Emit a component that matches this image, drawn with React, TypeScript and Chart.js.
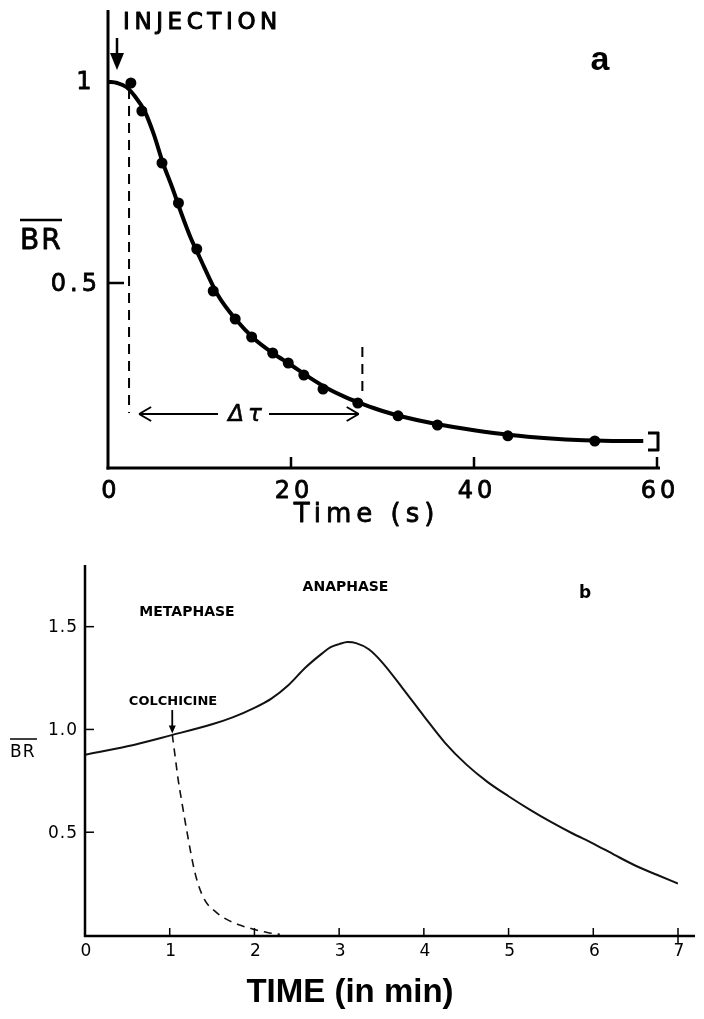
import React, { useEffect, useRef } from "react";
import { Chart, registerables } from "chart.js";

Chart.register(...registerables);

// ---------------- Panel a : data ----------------
const aCurveTime = [0, 1, 2, 3, 4, 5, 6, 7, 8, 9, 10, 12, 14, 16, 18, 20, 22, 24, 26, 28, 30, 32, 36, 40, 44, 48, 52, 56, 58.5];
const aCurveBR = [1.003, 1.0, 0.99, 0.965, 0.93, 0.872, 0.8, 0.74, 0.675, 0.615, 0.565, 0.47, 0.408, 0.36, 0.325, 0.295, 0.264, 0.236, 0.214, 0.196, 0.18, 0.167, 0.147, 0.132, 0.12, 0.112, 0.107, 0.105, 0.105];
const aPointTime = [2.5, 3.7, 5.9, 7.7, 9.7, 11.5, 13.9, 15.7, 18.0, 19.7, 21.4, 23.5, 27.3, 31.7, 36.0, 43.7, 53.2];
const aPointBR = [1.0, 0.93, 0.8, 0.7, 0.585, 0.48, 0.41, 0.365, 0.325, 0.3, 0.27, 0.235, 0.2, 0.168, 0.145, 0.118, 0.105];
const aDashStartTime = [2.3, 2.3];
const aDashStartBR = [0.985, 0.175];
const aDashEndTime = [27.8, 27.8];
const aDashEndBR = [0.34, 0.215];
const aXTicks = [0, 20, 40, 60];
const aXTickLabels = ["0", "20", "40", "60"];
const aXTickMarks = [20, 40, 60];
const aYTicks = [0.5, 1];
const aYTickLabels = ["0.5", "1"];
const aYTickMarks = [0.5];
const aDeltaTauTime = [3.4, 27.4];
const aDeltaTauBR = 0.1725;
const aXMin = 0, aXMax = 60, aYMin = 0.0375, aYMax = 1.1825;

// ---------------- Panel b : data ----------------
const bCurveTime = [0, 0.5, 1.0, 1.5, 1.75, 2.0, 2.2, 2.4, 2.6, 2.8, 2.9, 3.0, 3.1, 3.2, 3.35, 3.5, 3.75, 4.0, 4.25, 4.5, 4.75, 5.0, 5.25, 5.5, 5.75, 6.0, 6.25, 6.5, 6.75, 7.0];
const bCurveBR = [0.877, 0.918, 0.97, 1.025, 1.06, 1.105, 1.15, 1.215, 1.3, 1.37, 1.4, 1.415, 1.425, 1.42, 1.39, 1.33, 1.2, 1.065, 0.935, 0.83, 0.745, 0.675, 0.61, 0.55, 0.495, 0.445, 0.39, 0.337, 0.293, 0.25];
const bDashTime = [1.03, 1.07, 1.1, 1.15, 1.2, 1.3, 1.4, 1.55, 1.7, 1.85, 2.0, 2.15, 2.3];
const bDashBR = [0.975, 0.85, 0.755, 0.63, 0.51, 0.3, 0.18, 0.11, 0.07, 0.045, 0.027, 0.012, 0.003];
const bXTicks = [0, 1, 2, 3, 4, 5, 6, 7];
const bXTickLabels = ["0", "1", "2", "3", "4", "5", "6", "7"];
const bYTicks = [0.5, 1.0, 1.5];
const bYTickLabels = ["0.5", "1.0", "1.5"];
const bColchicineTime = 1.03;
const bColchicineBR = 0.975;
const bXMin = 0, bXMax = 7, bYMin = 0, bYMax = 1.8;

const SANS = '"DejaVu Sans", sans-serif';
const ARIAL = '"Liberation Sans", Arial, sans-serif';

function txt(ctx: CanvasRenderingContext2D, s: string, x: number, y: number, font: string, align: CanvasTextAlign = "center", spacing = 0, baseline: CanvasTextBaseline = "middle", thicken = 0) {
  ctx.save();
  ctx.font = font;
  (ctx as any).letterSpacing = spacing + "px";
  ctx.textAlign = align;
  ctx.textBaseline = baseline;
  ctx.fillStyle = "#000";
  const dx = align === "center" ? spacing / 2 : align === "right" ? spacing : 0;
  ctx.fillText(s, x + dx, y);
  if (thicken > 0) {
    ctx.strokeStyle = "#000";
    ctx.lineWidth = thicken;
    ctx.lineJoin = "round";
    ctx.strokeText(s, x + dx, y);
  }
  ctx.restore();
}

function seg(ctx: CanvasRenderingContext2D, x1: number, y1: number, x2: number, y2: number, w: number) {
  ctx.save();
  ctx.strokeStyle = "#000";
  ctx.lineWidth = w;
  ctx.beginPath();
  ctx.moveTo(x1, y1);
  ctx.lineTo(x2, y2);
  ctx.stroke();
  ctx.restore();
}

function tri(ctx: CanvasRenderingContext2D, pts: number[][]) {
  ctx.save();
  ctx.fillStyle = "#000";
  ctx.beginPath();
  ctx.moveTo(pts[0][0], pts[0][1]);
  for (let i = 1; i < pts.length; i++) ctx.lineTo(pts[i][0], pts[i][1]);
  ctx.closePath();
  ctx.fill();
  ctx.restore();
}

const toXY = (xs: number[], ys: number[]) => xs.map((x, i) => ({ x, y: ys[i] }));

const topDecor = {
  id: "topDecor",
  afterDraw(chart: any) {
    const ctx: CanvasRenderingContext2D = chart.ctx;
    const X = (v: number) => chart.scales.x.getPixelForValue(v);
    const Y = (v: number) => chart.scales.y.getPixelForValue(v);
    const x0 = X(aXMin), yb = Y(aYMin), yt = Y(aYMax);
    // axes
    seg(ctx, x0, yt, x0, yb + 1.5, 3);
    seg(ctx, x0 - 1.5, yb, X(aXMax) + 3, yb, 3);
    // tick marks (inside)
    aYTickMarks.forEach((v) => seg(ctx, x0, Y(v), x0 + 16, Y(v), 2.5));
    aXTickMarks.forEach((v) => seg(ctx, X(v), yb, X(v), yb - 11, 2.5));
    // tick labels
    aXTicks.forEach((v, i) => txt(ctx, aXTickLabels[i], X(v) + 1, yb + 24, "24px " + SANS, "center", 4, "middle", 0.8));
    aYTicks.forEach((v, i) => {
      if (aYTickLabels[i] === "1") txt(ctx, aYTickLabels[i], 84, Y(v), "24px " + SANS, "center", 0, "middle", 0.8);
      else txt(ctx, aYTickLabels[i], x0 - 11, Y(v) + 2, "24px " + SANS, "right", 4, "middle", 0.8);
    });
    // axis titles
    txt(ctx, "Time (s)", 364, 515, "26px " + SANS, "center", 5, "middle", 0.8);
    txt(ctx, "BR", 20, 249, "28px " + SANS, "left", 2, "alphabetic", 0.8);
    seg(ctx, 20, 220, 62, 220, 2.5);
    // INJECTION label and arrow
    txt(ctx, "INJECTION", 123, 23, "23px " + SANS, "left", 4.6, "middle", 1);
    seg(ctx, 117, 38, 117, 56, 2.5);
    tri(ctx, [[110, 53], [124, 53], [117, 70]]);
    // panel letter
    txt(ctx, "a", 600, 70, "bold 34px " + ARIAL, "center", 0, "alphabetic");
    // delta tau arrow
    const ay = Y(aDeltaTauBR);
    const xl = X(aDeltaTauTime[0]), xr = X(aDeltaTauTime[1]);
    seg(ctx, xl, ay, 218, ay, 2);
    seg(ctx, 269, ay, xr, ay, 2);
    seg(ctx, xl, ay, xl + 12, ay - 7, 2);
    seg(ctx, xl, ay, xl + 12, ay + 7, 2);
    seg(ctx, xr, ay, xr - 12, ay - 7, 2);
    seg(ctx, xr, ay, xr - 12, ay + 7, 2);
    txt(ctx, "Δτ", 245, ay + 1, "italic 23px " + SANS, "center", 4, "middle", 0.6);
    // end bracket
    const bx = X(aXMax);
    seg(ctx, bx + 1, 432, bx + 1, 451, 3);
    seg(ctx, bx - 9, 433, bx + 2, 433, 3);
    seg(ctx, bx - 9, 450, bx + 2, 450, 3);
  },
};

const bottomDecor = {
  id: "bottomDecor",
  afterDraw(chart: any) {
    const ctx: CanvasRenderingContext2D = chart.ctx;
    const X = (v: number) => chart.scales.x.getPixelForValue(v);
    const Y = (v: number) => chart.scales.y.getPixelForValue(v);
    const x0 = X(bXMin), yb = Y(bYMin) + 1, yt = Y(bYMax);
    seg(ctx, x0, yt, x0, yb + 1, 2.5);
    seg(ctx, x0 - 1, yb, 695, yb, 2.5);
    bYTicks.forEach((v, i) => {
      seg(ctx, x0, Y(v), x0 + 9, Y(v), 1.5);
      txt(ctx, bYTickLabels[i], x0 - 8, Y(v) + 1, "17px " + SANS, "right", 1);
    });
    bXTicks.forEach((v, i) => {
      if (v > 0) seg(ctx, X(v), yb, X(v), yb - 8, 1.5);
      txt(ctx, bXTickLabels[i], X(v) + 1, yb + 16, "17px " + SANS, "center", 1);
    });
    seg(ctx, X(bXMax), yb, X(bXMax), yb + 7, 1.5);
    // labels
    txt(ctx, "METAPHASE", 187, 72.5, "bold 14px " + SANS, "center", 0);
    txt(ctx, "ANAPHASE", 345.5, 47.5, "bold 14px " + SANS, "center", 0);
    txt(ctx, "COLCHICINE", 173, 162, "bold 13px " + SANS, "center", 0);
    txt(ctx, "b", 585, 58, "bold 17px " + SANS, "center", 0, "alphabetic");
    txt(ctx, "BR", 10, 217, "17px " + SANS, "left", 1, "alphabetic");
    seg(ctx, 10, 199, 37, 199, 1.5);
    txt(ctx, "TIME (in min)", 350, 453, "bold 33px " + ARIAL, "center", 0);
    // colchicine arrow
    const cx = X(bColchicineTime), cy = Y(bColchicineBR);
    seg(ctx, cx, 170, cx, cy - 6, 1.8);
    tri(ctx, [[cx - 3.5, cy - 9], [cx + 3.5, cy - 9], [cx, cy - 1]]);
  },
};

export default function App() {
  const topRef = useRef<HTMLCanvasElement | null>(null);
  const botRef = useRef<HTMLCanvasElement | null>(null);

  useEffect(() => {
    const common = {
      animation: false as const,
      responsive: false,
      maintainAspectRatio: false,
      events: [] as any[],
    };
    const top = new Chart(topRef.current!, {
      type: "line",
      data: {
        datasets: [
          {
            label: "measured",
            data: toXY(aPointTime, aPointBR),
            showLine: false,
            pointRadius: 5.5,
            pointBackgroundColor: "#000",
            pointBorderColor: "#000",
            pointBorderWidth: 0,
            borderColor: "#000",
          },
          {
            label: "fit",
            data: toXY(aCurveTime, aCurveBR),
            borderColor: "#000",
            borderWidth: 4,
            pointRadius: 0,
            cubicInterpolationMode: "monotone",
            fill: false,
          },
          {
            label: "start",
            data: toXY(aDashStartTime, aDashStartBR),
            borderColor: "#000",
            borderWidth: 2,
            borderDash: [10, 7],
            pointRadius: 0,
          },
          {
            label: "end",
            data: toXY(aDashEndTime, aDashEndBR),
            borderColor: "#000",
            borderWidth: 2,
            borderDash: [10, 7],
            pointRadius: 0,
          },
        ],
      },
      options: {
        ...common,
        layout: { padding: { left: 108, right: 47, top: 10, bottom: 72 } },
        scales: {
          x: { type: "linear", min: aXMin, max: aXMax, display: false },
          y: { type: "linear", min: aYMin, max: aYMax, display: false },
        },
        plugins: { legend: { display: false }, tooltip: { enabled: false } },
      },
      plugins: [topDecor],
    } as any);

    const bottom = new Chart(botRef.current!, {
      type: "line",
      data: {
        datasets: [
          {
            label: "BR",
            data: toXY(bCurveTime, bCurveBR),
            borderColor: "#111",
            borderWidth: 2,
            pointRadius: 0,
            cubicInterpolationMode: "monotone",
            fill: false,
          },
          {
            label: "colchicine",
            data: toXY(bDashTime, bDashBR),
            borderColor: "#111",
            borderWidth: 1.6,
            borderDash: [8, 6],
            pointRadius: 0,
            cubicInterpolationMode: "monotone",
            fill: false,
          },
        ],
      },
      options: {
        ...common,
        layout: { padding: { left: 85, right: 26, top: 25, bottom: 84 } },
        scales: {
          x: { type: "linear", min: bXMin, max: bXMax, display: false },
          y: { type: "linear", min: bYMin, max: bYMax, display: false },
        },
        plugins: { legend: { display: false }, tooltip: { enabled: false } },
      },
      plugins: [bottomDecor],
    } as any);

    return () => {
      top.destroy();
      bottom.destroy();
    };
  }, []);

  return (
    <div style={{ position: "absolute", left: 0, top: 0, width: 704, height: 1019, background: "#fff" }}>
      <canvas ref={topRef} width={704} height={540} style={{ position: "absolute", left: 0, top: 0, width: 704, height: 540 }} />
      <canvas ref={botRef} width={704} height={479} style={{ position: "absolute", left: 0, top: 540, width: 704, height: 479 }} />
    </div>
  );
}
